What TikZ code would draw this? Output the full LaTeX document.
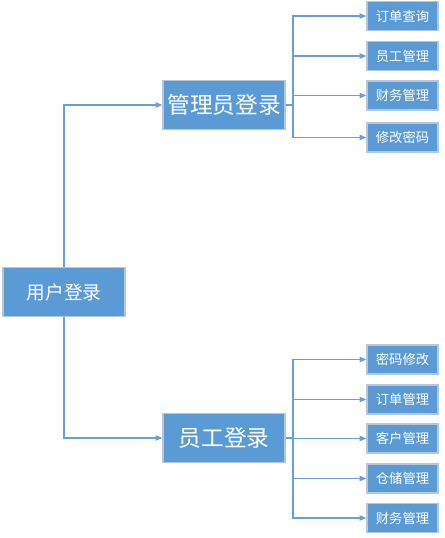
\documentclass[tikz,border=0pt]{standalone}
\usepackage{fontspec}
\newfontfamily\cjk{Noto Sans CJK SC}
\usetikzlibrary{arrows.meta}
\definecolor{boxfill}{HTML}{5B9BD5}
\definecolor{boxedge}{HTML}{B4C7DC}
\definecolor{linec}{HTML}{6A9FD6}
\begin{document}
\begin{tikzpicture}[x=0.75pt,y=-0.75pt,
  box/.style={draw=boxedge,line width=1pt,fill=boxfill,text=white,inner sep=0pt,font=\cjk},
  small/.style={box,minimum width=71*0.75pt,minimum height=29*0.75pt,font=\cjk\fontsize{10}{12}\selectfont},
  big/.style={box,minimum width=122*0.75pt,minimum height=49*0.75pt,font=\cjk\fontsize{17}{20}\selectfont},
  conn/.style={draw=linec,line width=0.9pt},
  arr/.style={conn,-{Triangle[length=5pt,width=4pt]}}]
\useasboundingbox (0,0) rectangle (444,538);
\node[box,minimum width=122*0.75pt,minimum height=49*0.75pt,font=\cjk\fontsize{14}{17}\selectfont] (root) at (64,292) {用户登录};
\node[big] (admin) at (224,105) {管理员登录};
\node[big] (staff) at (224,438) {员工登录};
\node[small] (a1) at (402.5,16) {订单查询};
\node[small] (a2) at (402.5,56) {员工管理};
\node[small] (a3) at (402.5,95.5) {财务管理};
\node[small] (a4) at (402.5,137.5) {修改密码};
\node[small] (s1) at (402.5,359.5) {密码修改};
\node[small] (s2) at (402.5,399.5) {订单管理};
\node[small] (s3) at (402.5,438.5) {客户管理};
\node[small] (s4) at (402.5,478.5) {仓储管理};
\node[small] (s5) at (402.5,518) {财务管理};
\draw[arr] (root.north) |- (admin.west);
\draw[arr] (root.south) |- (staff.west);
\coordinate (ja) at (293,105);
\coordinate (js) at (293,438);
\draw[conn] (admin.east) -- (ja);
\draw[conn] (staff.east) -- (js);
\foreach \n in {a1,a2,a3,a4} \draw[arr] (ja) |- (\n.west);
\foreach \n in {s1,s2,s3,s4,s5} \draw[arr] (js) |- (\n.west);
\end{tikzpicture}
\end{document}
